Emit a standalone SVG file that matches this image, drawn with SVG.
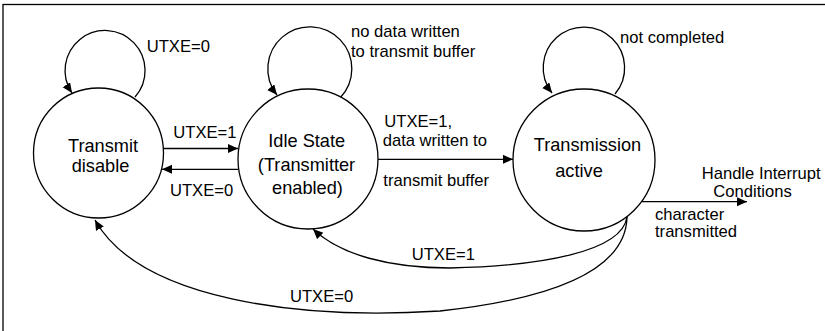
<svg xmlns="http://www.w3.org/2000/svg" width="825" height="331" viewBox="0 0 825 331">
<style>
.n{fill:#fff;stroke:#000;stroke-width:1.3}
.c{fill:none;stroke:#000;stroke-width:1.3}
.t{font-family:"Liberation Sans",Arial,sans-serif;font-size:18.2px;fill:#000;text-anchor:middle}
.l{font-family:"Liberation Sans",Arial,sans-serif;font-size:16.6px;fill:#000}
</style>
<defs>
<marker id="ah" markerUnits="userSpaceOnUse" markerWidth="11" markerHeight="10" refX="10" refY="4.5" orient="auto" viewBox="0 0 11 10">
<path d="M0,0 L10,4.5 L0,9 z" fill="#000"/>
</marker>
</defs>
<rect x="3" y="4.5" width="840" height="340" fill="#fff" stroke="#000" stroke-width="1.3"/>
<g id="connectors">
<path class="c" d="M135,97 A40,40 0 1 0 72,93" marker-end="url(#ah)"/>
<path class="c" d="M340,98 A42,42 0 1 0 277,95" marker-end="url(#ah)"/>
<path class="c" d="M615,94 A40.7,40.7 0 1 0 552,93" marker-end="url(#ah)"/>
<path class="c" d="M163.5,148.5 L238,148.5" marker-end="url(#ah)"/>
<path class="c" d="M238,169.3 L162,169.3" marker-end="url(#ah)"/>
<path class="c" d="M378,159.3 L513,159.3" marker-end="url(#ah)"/>
<path class="c" d="M642,201.7 L747,201.7" marker-end="url(#ah)"/>
<path class="c" d="M627,217 C622,252 540,266 450,268 C390,268 340,255 313,229" marker-end="url(#ah)"/>
<path class="c" d="M627,217 C626,268 560,298 440,311 C300,320 140,300 95,220" marker-end="url(#ah)"/>
</g>
<g id="transmit-disable">
<circle class="n" cx="98.5" cy="153" r="65"/>
<text class="t" x="103" y="151.7">Transmit</text>
<text class="t" x="100.5" y="172.3">disable</text>
</g>
<g id="idle-state">
<circle class="n" cx="308" cy="159" r="70"/>
<text class="t" x="306.7" y="146.5">Idle State</text>
<text class="t" x="306.5" y="170.7">(Transmitter</text>
<text class="t" x="307.5" y="193.5">enabled)</text>
</g>
<g id="transmission-active">
<circle class="n" cx="584" cy="160" r="71"/>
<text class="t" x="587.5" y="151">Transmission</text>
<text class="t" x="579" y="176.7">active</text>
</g>
<g id="labels">
<text class="l" x="146.7" y="52.3">UTXE=0</text>
<text class="l" x="351" y="37.3">no data written</text>
<text class="l" x="351" y="56.7">to transmit buffer</text>
<text class="l" x="620" y="42.7">not completed</text>
<text class="l" x="173.3" y="138.3">UTXE=1</text>
<text class="l" x="170" y="196">UTXE=0</text>
<text class="l" x="384.3" y="126.7">UTXE=1,</text>
<text class="l" x="382.7" y="145.7">data written to</text>
<text class="l" x="383.3" y="186">transmit buffer</text>
<text class="l" x="701.7" y="179">Handle Interrupt</text>
<text class="l" x="713.3" y="196.7">Conditions</text>
<text class="l" x="655" y="220">character</text>
<text class="l" x="655" y="237">transmitted</text>
<text class="l" x="411.7" y="260">UTXE=1</text>
<text class="l" x="290" y="301.7">UTXE=0</text>
</g>
</svg>
